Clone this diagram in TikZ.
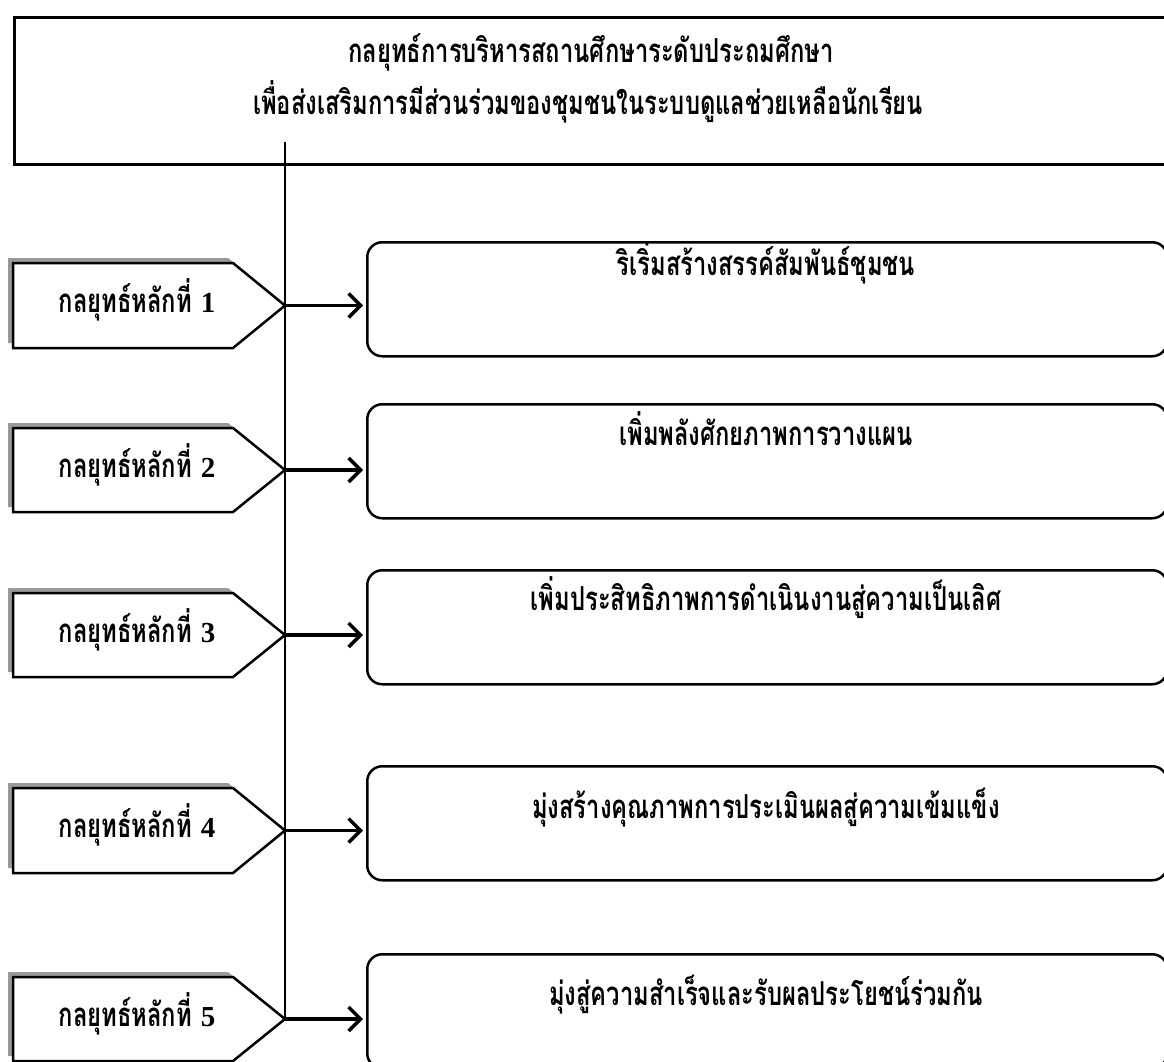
\documentclass[tikz,border=0pt]{standalone}
\usepackage{fontspec}
\usetikzlibrary{arrows.meta}
\newfontfamily\thaifont[Script=Thai,FakeStretch=0.72]{Loma}
\newfontfamily\numfont{Liberation Serif}
\definecolor{shadowgray}{HTML}{999999}
\begin{document}
\begin{tikzpicture}[x=1pt,y=-1pt,
  lbl/.style={font=\thaifont\bfseries\fontsize{33}{38}\selectfont, anchor=base, inner sep=0pt},
  frame/.style={draw, line width=3pt, anchor=north west, inner sep=0pt},
  pent/.style={draw, line width=2.5pt, fill=white, line join=miter},
  shade/.style={fill=shadowgray},
  rbox/.style={draw, line width=2.5pt, rounded corners=15pt, anchor=north west, inner sep=0pt, minimum width=800pt, minimum height=114pt},
  conn/.style={line width=2.5pt},
  arr/.style={line width=3.5pt, -{Straight Barb[length=12pt,width=24pt]}, shorten >=3pt}
]
\useasboundingbox (0,0) rectangle (1164,1062);
\clip (0,0) rectangle (1164,1062);
\fill[white] (0,0) rectangle (1164,1062);

% title box
\node[frame, minimum width=1177pt, minimum height=147pt] (top) at (13,16) {};
\node[lbl] (title1) at (591,63) {กลยุทธ์การบริหารสถานศึกษาระดับประถมศึกษา};
\node[lbl] (title2) at (588,115) {เพื่อส่งเสริมการมีส่วนร่วมของชุมชนในระบบดูแลช่วยเหลือนักเรียน};

% right rounded boxes
\node[rbox] (b1) at (366,241) {};
\node[rbox] (b2) at (366,403) {};
\node[rbox] (b3) at (366,569) {};
\node[rbox] (b4) at (366,765) {};
\node[rbox] (b5) at (366,953) {};
\node[lbl] (t1) at (766,275) {ริเริ่มสร้างสรรค์สัมพันธ์ชุมชน};
\node[lbl] (t2) at (766,445) {เพิ่มพลังศักยภาพการวางแผน};
\node[lbl] (t3) at (766,610) {เพิ่มประสิทธิภาพการดำเนินงานสู่ความเป็นเลิศ};
\node[lbl] (t4) at (766,818) {มุ่งสร้างคุณภาพการประเมินผลสู่ความเข้มแข็ง};
\node[lbl] (t5) at (766,1005) {มุ่งสู่ความสำเร็จและรับผลประโยชน์ร่วมกัน};

% pentagons
\foreach \i/\ya/\yb in {1/263/348, 2/428/512, 3/593/677, 4/788/873, 5/977/1061} {
  \pgfmathsetmacro\ym{(\ya+\yb)/2}
  \fill[shade] (8,\ya-5) -- (228,\ya-5) -- (280,\ym-5) -- (228,\yb-5) -- (8,\yb-5) -- cycle;
  \draw[pent] (13,\ya) -- (233,\ya) -- (285,\ym) -- (233,\yb) -- (13,\yb) -- cycle;
  \coordinate (k\i) at (285,\ym);
  \node[lbl] (p\i) at (137,\ym+7) {กลยุทธ์หลักที่\hspace{9pt}{\numfont\bfseries\fontsize{29}{34}\selectfont\i}};
}

% connectors
\coordinate (vtop) at (285,142);
\draw[conn] (vtop) -- (k5);
\foreach \i in {1,...,5} {
  \draw[arr] (k\i) -- (k\i -| b\i.west);
}
\end{tikzpicture}
\end{document}
